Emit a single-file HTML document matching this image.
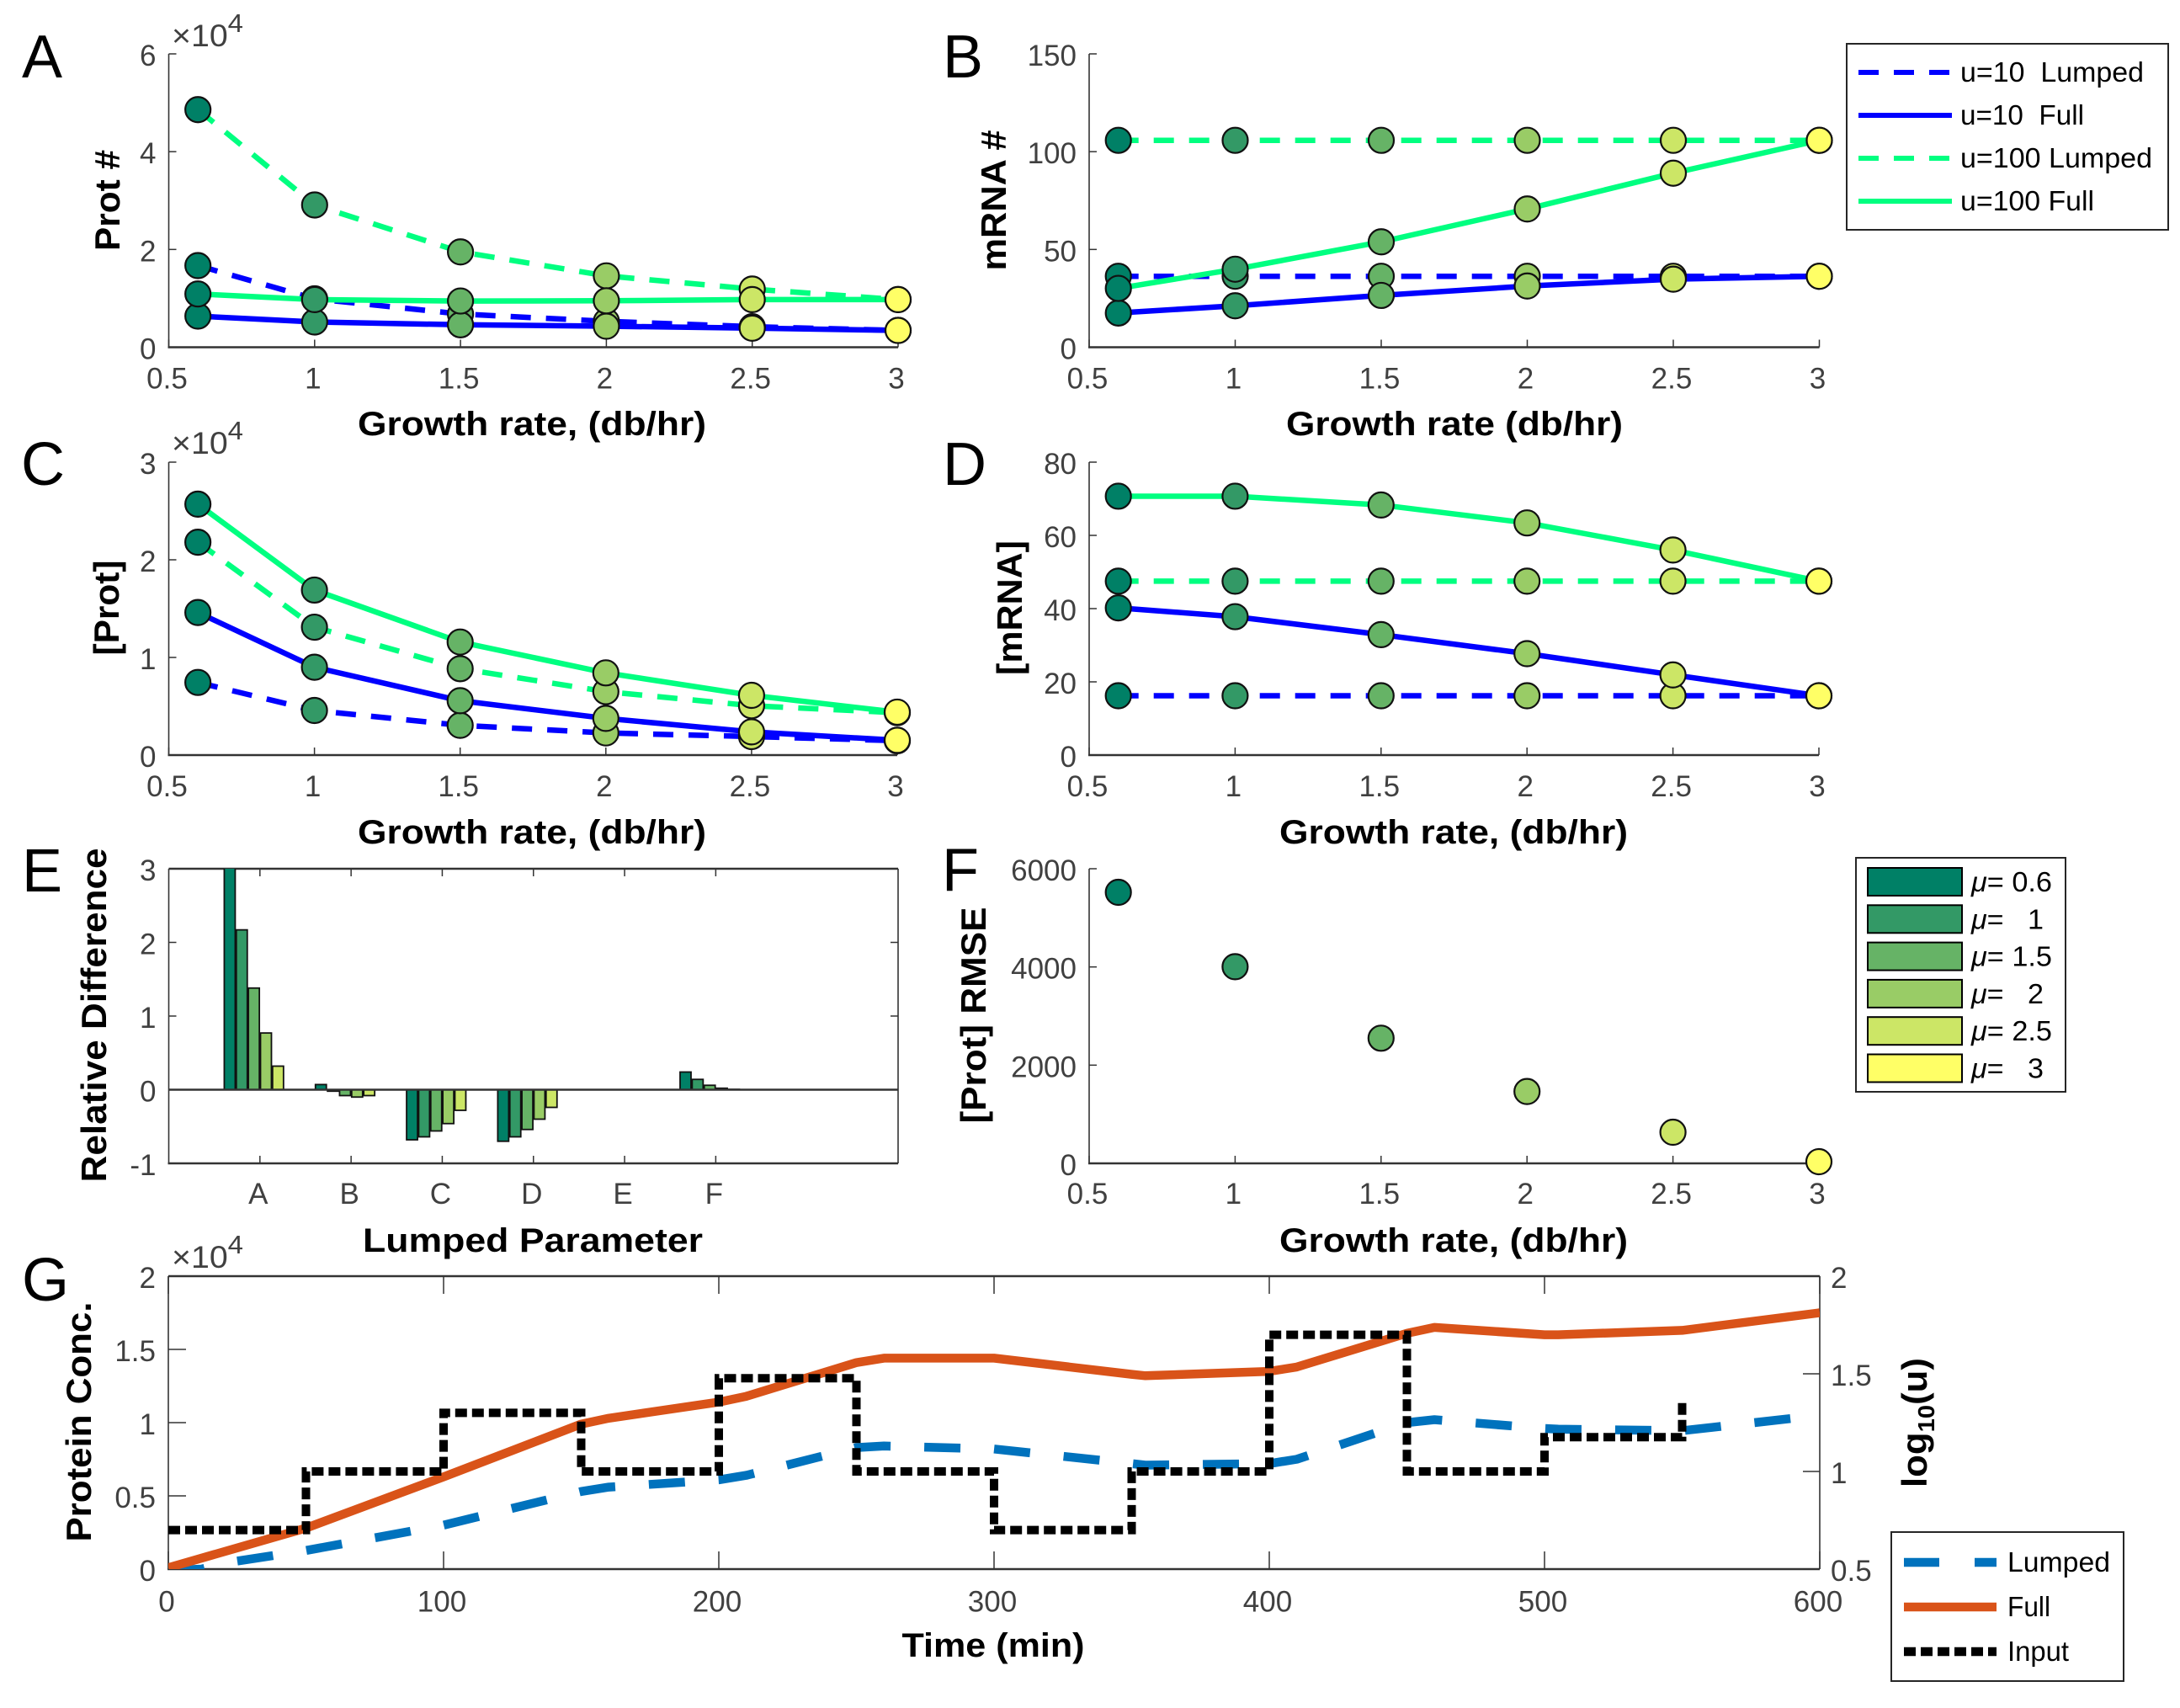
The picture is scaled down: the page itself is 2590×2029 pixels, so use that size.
<!DOCTYPE html>
<html lang="en">
<head>
<meta charset="utf-8">
<title>Lumped vs full model comparison</title>
<style>
html,body{margin:0;padding:0;background:#fff;}
svg{display:block;font-family:"Liberation Sans",sans-serif;}
.lab{font-weight:bold;font-size:40px;fill:#000;}
.ylab{font-weight:bold;font-size:42px;fill:#000;}
.letter{font-size:72px;fill:#000;}
.exp{font-size:37px;fill:#404040;}
.leg{font-size:33px;fill:#000;white-space:pre;}
</style>
</head>
<body>
<svg id="figure" xmlns="http://www.w3.org/2000/svg" width="2590" height="2029" viewBox="0 0 2590 2029">
<defs>
<clipPath id="clip-e"><rect x="200" y="1032" width="867" height="350"/></clipPath>
<clipPath id="clip-g"><rect x="200" y="1516" width="1962" height="348"/></clipPath>
</defs>
<rect x="0" y="0" width="2590" height="2029" fill="#fff"/>
<g id="plots"></g>

<text class="letter" x="26" y="92">A</text>
<text class="letter" x="1120" y="92">B</text>
<text class="letter" x="25" y="576">C</text>
<text class="letter" x="1120" y="576">D</text>
<text class="letter" x="26" y="1059">E</text>
<text class="letter" x="1119" y="1058">F</text>
<text class="letter" x="26" y="1545">G</text>

<text class="exp" x="204" y="55" textLength="85" lengthAdjust="spacingAndGlyphs">×10<tspan dy="-17" font-size="31">4</tspan></text>
<text class="exp" x="204" y="539" textLength="85" lengthAdjust="spacingAndGlyphs">×10<tspan dy="-17" font-size="31">4</tspan></text>
<text class="exp" x="204" y="1506" textLength="85" lengthAdjust="spacingAndGlyphs">×10<tspan dy="-17" font-size="31">4</tspan></text>

<text class="lab" x="632" y="517" text-anchor="middle" textLength="414" lengthAdjust="spacingAndGlyphs">Growth rate, (db/hr)</text>
<text class="lab" x="1728" y="517" text-anchor="middle" textLength="400" lengthAdjust="spacingAndGlyphs">Growth rate (db/hr)</text>
<text class="lab" x="632" y="1002" text-anchor="middle" textLength="414" lengthAdjust="spacingAndGlyphs">Growth rate, (db/hr)</text>
<text class="lab" x="1727" y="1002" text-anchor="middle" textLength="414" lengthAdjust="spacingAndGlyphs">Growth rate, (db/hr)</text>
<text class="lab" x="633" y="1487" text-anchor="middle" textLength="404" lengthAdjust="spacingAndGlyphs">Lumped Parameter</text>
<text class="lab" x="1727" y="1487" text-anchor="middle" textLength="414" lengthAdjust="spacingAndGlyphs">Growth rate, (db/hr)</text>
<text class="lab" x="1180" y="1968" text-anchor="middle" textLength="217" lengthAdjust="spacingAndGlyphs">Time (min)</text>

<text class="ylab" transform="translate(142,238) rotate(-90)" text-anchor="middle" textLength="120" lengthAdjust="spacingAndGlyphs">Prot #</text>
<text class="ylab" transform="translate(1195,238) rotate(-90)" text-anchor="middle" textLength="167" lengthAdjust="spacingAndGlyphs">mRNA #</text>
<text class="ylab" transform="translate(141,722) rotate(-90)" text-anchor="middle" textLength="113" lengthAdjust="spacingAndGlyphs">[Prot]</text>
<text class="ylab" transform="translate(1214,722) rotate(-90)" text-anchor="middle" textLength="160" lengthAdjust="spacingAndGlyphs">[mRNA]</text>
<text class="ylab" transform="translate(126,1206) rotate(-90)" text-anchor="middle" textLength="397" lengthAdjust="spacingAndGlyphs">Relative Difference</text>
<text class="ylab" transform="translate(1171,1206) rotate(-90)" text-anchor="middle" textLength="257" lengthAdjust="spacingAndGlyphs">[Prot] RMSE</text>
<text class="ylab" transform="translate(108,1689) rotate(-90)" text-anchor="middle" textLength="285" lengthAdjust="spacingAndGlyphs">Protein Conc.</text>
<text class="ylab" transform="translate(2289,1690) rotate(-90)" text-anchor="middle" textLength="154" lengthAdjust="spacingAndGlyphs">log<tspan dy="9" font-size="28">10</tspan><tspan dy="-9">(u)</tspan></text>

<g>
<rect x="2194" y="52" width="382" height="221" fill="#fff" stroke="#262626" stroke-width="2"/>
<line x1="2208" x2="2319" y1="86" y2="86" stroke="#0000ff" stroke-width="6" stroke-dasharray="24 18"/>
<text class="leg" x="2329" y="97" textLength="218" lengthAdjust="spacingAndGlyphs">u=10  Lumped</text>
<line x1="2208" x2="2319" y1="137" y2="137" stroke="#0000ff" stroke-width="6"/>
<text class="leg" x="2329" y="148" textLength="147" lengthAdjust="spacingAndGlyphs">u=10  Full</text>
<line x1="2208" x2="2319" y1="188" y2="188" stroke="#00ff80" stroke-width="6" stroke-dasharray="24 18"/>
<text class="leg" x="2329" y="199" textLength="228" lengthAdjust="spacingAndGlyphs">u=100 Lumped</text>
<line x1="2208" x2="2319" y1="239" y2="239" stroke="#00ff80" stroke-width="6"/>
<text class="leg" x="2329" y="250" textLength="159" lengthAdjust="spacingAndGlyphs">u=100 Full</text>
</g>

<g>
<rect x="2205" y="1019" width="249" height="278" fill="#fff" stroke="#262626" stroke-width="2"/>
<rect x="2219" y="1031" width="112" height="33" fill="#008066" stroke="#000" stroke-width="2"/>
<text class="leg" x="2342" y="1059" textLength="96" lengthAdjust="spacingAndGlyphs"><tspan font-style="italic">μ</tspan>= 0.6</text>
<rect x="2219" y="1075.3" width="112" height="33" fill="#339966" stroke="#000" stroke-width="2"/>
<text class="leg" x="2342" y="1103.3" textLength="86" lengthAdjust="spacingAndGlyphs"><tspan font-style="italic">μ</tspan>=   1</text>
<rect x="2219" y="1119.6" width="112" height="33" fill="#66b366" stroke="#000" stroke-width="2"/>
<text class="leg" x="2342" y="1147.6" textLength="96" lengthAdjust="spacingAndGlyphs"><tspan font-style="italic">μ</tspan>= 1.5</text>
<rect x="2219" y="1163.9" width="112" height="33" fill="#99cc66" stroke="#000" stroke-width="2"/>
<text class="leg" x="2342" y="1191.9" textLength="86" lengthAdjust="spacingAndGlyphs"><tspan font-style="italic">μ</tspan>=   2</text>
<rect x="2219" y="1208.2" width="112" height="33" fill="#cce666" stroke="#000" stroke-width="2"/>
<text class="leg" x="2342" y="1236.2" textLength="96" lengthAdjust="spacingAndGlyphs"><tspan font-style="italic">μ</tspan>= 2.5</text>
<rect x="2219" y="1252.5" width="112" height="33" fill="#ffff66" stroke="#000" stroke-width="2"/>
<text class="leg" x="2342" y="1280.5" textLength="86" lengthAdjust="spacingAndGlyphs"><tspan font-style="italic">μ</tspan>=   3</text>
</g>

<g>
<rect x="2247" y="1820" width="276" height="177" fill="#fff" stroke="#262626" stroke-width="2"/>
<line x1="2262" x2="2372" y1="1856" y2="1856" stroke="#0072bd" stroke-width="10.5" stroke-dasharray="42 42"/>
<text class="leg" x="2385" y="1867" textLength="122" lengthAdjust="spacingAndGlyphs">Lumped</text>
<line x1="2262" x2="2372" y1="1909" y2="1909" stroke="#d95319" stroke-width="10.5"/>
<text class="leg" x="2385" y="1920" textLength="51" lengthAdjust="spacingAndGlyphs">Full</text>
<line x1="2262" x2="2372" y1="1962" y2="1962" stroke="#000" stroke-width="10.5" stroke-dasharray="14 6"/>
<text class="leg" x="2385" y="1973" textLength="73" lengthAdjust="spacingAndGlyphs">Input</text>
</g>
</svg>

<script>
// ---- shared categories and tick labels ----
const growthRates = [0.6, 1, 1.5, 2, 2.5, 3];
const rateTicks = [0.5, 1, 1.5, 2, 2.5, 3];
const rateTickLabels = ['0.5', '1', '1.5', '2', '2.5', '3'];

// ---- panel A: protein count (x10^4) ----
const protCountU10Lumped = [1.67, 0.99, 0.68, 0.53, 0.42, 0.344];
const protCountU10Full = [0.637, 0.516, 0.459, 0.43, 0.39, 0.344];
const protCountU100Lumped = [4.86, 2.91, 1.95, 1.46, 1.19, 0.975];
const protCountU100Full = [1.09, 0.975, 0.946, 0.95, 0.975, 0.975];
const protCountTicks = [0, 2, 4, 6];

// ---- panel B: mRNA count ----
const mrnaCountU10Lumped = [36.3, 36.3, 36.3, 36.3, 36.3, 36.3];
const mrnaCountU10Full = [17.5, 21.2, 26.5, 31.3, 34.8, 36.3];
const mrnaCountU100Lumped = [105.8, 105.8, 105.8, 105.8, 105.8, 105.8];
const mrnaCountU100Full = [30.1, 39.9, 53.9, 70.7, 89, 105.8];
const mrnaCountTicks = [0, 50, 100, 150];

// ---- panel C: protein concentration (x10^4) ----
const protConcU10Lumped = [0.744, 0.457, 0.305, 0.227, 0.19, 0.147];
const protConcU10Full = [1.46, 0.9, 0.557, 0.376, 0.238, 0.152];
const protConcU100Lumped = [2.18, 1.31, 0.885, 0.65, 0.506, 0.434];
const protConcU100Full = [2.57, 1.69, 1.158, 0.842, 0.612, 0.44];
const protConcTicks = [0, 1, 2, 3];

// ---- panel D: mRNA concentration ----
const mrnaConcU10Lumped = [16.2, 16.2, 16.2, 16.2, 16.2, 16.2];
const mrnaConcU10Full = [40.2, 37.8, 32.9, 27.7, 21.9, 16.2];
const mrnaConcU100Lumped = [47.5, 47.5, 47.5, 47.5, 47.5, 47.5];
const mrnaConcU100Full = [70.7, 70.7, 68.3, 63.4, 56, 47.5];
const mrnaConcTicks = [0, 20, 40, 60, 80];

// ---- panel E: relative difference bars, one array per growth rate ----
const barCategories = ['A', 'B', 'C', 'D', 'E', 'F'];
const barMu06 = [3.2, 0.07, -0.68, -0.7, 0, 0.24];
const barMu1 = [2.17, -0.02, -0.64, -0.64, 0, 0.14];
const barMu15 = [1.38, -0.08, -0.56, -0.54, 0, 0.06];
const barMu2 = [0.77, -0.1, -0.46, -0.4, 0, 0.02];
const barMu25 = [0.32, -0.08, -0.28, -0.24, 0, 0.005];
const barMu3 = [0, 0, 0, 0, 0, 0];
const barTicks = [-1, 0, 1, 2, 3];

// ---- panel F: RMSE ----
const rmseValues = [5520, 4005, 2549, 1463, 634, 34];
const rmseTicks = [0, 2000, 4000, 6000];

// ---- panel G: time course ----
const fullTimes = [0, 50, 100, 150, 160, 200, 210, 250, 260, 300, 350, 355, 400, 410, 450, 460, 500, 505, 550, 600];
const fullValues = [0.01, 0.28, 0.63, 0.99, 1.03, 1.14, 1.18, 1.41, 1.44, 1.44, 1.33, 1.32, 1.35, 1.38, 1.61, 1.65, 1.6, 1.6, 1.63, 1.75];
const lumpedTimes = [0, 12, 25, 50, 100, 150, 160, 200, 210, 250, 260, 300, 350, 355, 400, 410, 450, 460, 500, 505, 550, 600];
const lumpedValues = [-0.01, 0.0, 0.055, 0.127, 0.3, 0.53, 0.56, 0.61, 0.64, 0.83, 0.84, 0.82, 0.72, 0.71, 0.72, 0.75, 1.0, 1.02, 0.96, 0.955, 0.945, 1.05];
const inputStepTimes = [0, 50, 100, 150, 200, 250, 300, 350, 400, 450, 500, 550];
const inputLevels = [0.7, 1, 1.3, 1, 1.477, 1, 0.7, 1, 1.7, 1, 1.176, 1.36];
const timeTicks = [0, 100, 200, 300, 400, 500, 600];
const concTicks = [0, 0.5, 1, 1.5, 2];
const concTickLabels = ['0', '0.5', '1', '1.5', '2'];
const logTicks = [0.5, 1, 1.5, 2];
const logTickLabels = ['0.5', '1', '1.5', '2'];

// ---- styling ----
const rateColors = ['#008066', '#339966', '#66b366', '#99cc66', '#cce666', '#ffff66'];
const rateNames = ['0-6', '1', '1-5', '2', '2-5', '3'];
const SVG_NS = 'http://www.w3.org/2000/svg';
const root = document.getElementById('plots');
const AXIS_COLOR = '#333333';
const TICK_COLOR = '#404040';

function linearScale(d0, d1, r0, r1) {
  return function (v) { return r0 + (v - d0) / (d1 - d0) * (r1 - r0); };
}
function make(tag, parent, attrs) {
  const el = document.createElementNS(SVG_NS, tag);
  Object.keys(attrs).forEach(function (k) { el.setAttribute(k, attrs[k]); });
  parent.appendChild(el);
  return el;
}
function drawSegment(parent, name, x1, y1, x2, y2, width) {
  const el = make('line', parent, { x1: x1, y1: y1, x2: x2, y2: y2, stroke: AXIS_COLOR, 'stroke-width': width });
  
  
  return el;
}
function drawLabel(parent, name, x, y, str, anchor) {
  const el = make('text', parent, { x: x, y: y, 'font-size': 35, fill: TICK_COLOR, 'text-anchor': anchor });
  el.textContent = str;
  
  
  return el;
}
function drawPanelAxes(group, box, sx, sy, xTicks, xLabels, yTicks, yLabels, xLabelBase, tickLen, boxed) {
  drawSegment(group, 'y-axis-line', box.left, box.top, box.left, box.bottom, 1.6);
  drawSegment(group, 'x-axis-line', box.left - 1, box.bottom, box.right, box.bottom, 2.4);
  if (boxed) {
    drawSegment(group, 'top-axis-line', box.left, box.top, box.right, box.top, 2.4);
    drawSegment(group, 'right-axis-line', box.right, box.top, box.right, box.bottom, 1.6);
  }
  xTicks.forEach(function (t, i) {
    const x = sx(t);
    drawSegment(group, 'x-tick', x, box.bottom, x, box.bottom - tickLen, 1.5);
    if (boxed) { drawSegment(group, 'x-tick-top', x, box.top, x, box.top + tickLen, 1.5); }
    drawLabel(group, 'x-tick-label', x - 2, xLabelBase, xLabels[i], 'middle');
  });
  yTicks.forEach(function (t, i) {
    const y = sy(t);
    drawSegment(group, 'y-tick', box.left, y, box.left + tickLen, y, 1.5);
    drawLabel(group, 'y-tick-label', box.left - 15, y + 14, yLabels[i], 'end');
  });
}
function drawPolyline(parent, name, xs, ys, sx, sy, color, width, dash, clip) {
  const pts = xs.map(function (x, i) { return sx(x).toFixed(1) + ',' + sy(ys[i]).toFixed(1); }).join(' ');
  const el = make('polyline', parent, { points: pts, fill: 'none', stroke: color, 'stroke-width': width, 'stroke-linejoin': 'round' });
  if (dash) { el.setAttribute('stroke-dasharray', dash); }
  if (clip) { el.setAttribute('clip-path', clip); }
  
  
  return el;
}
function drawMarkers(parent, name, values, sx, sy) {
  values.forEach(function (v, i) {
    const c = make('circle', parent, { cx: sx(growthRates[i]), cy: sy(v), r: 15, fill: rateColors[i], stroke: '#111', 'stroke-width': 2.2 });
    
    
  });
}
function drawFourSeriesPanel(name, box, yMax, u10Lumped, u10Full, u100Lumped, u100Full, yTicks, xLabelBase) {
  const group = make('g', root, {});
  
  
  const sx = linearScale(0.5, 3, box.left, box.right);
  const sy = linearScale(0, yMax, box.bottom, box.top);
  drawPanelAxes(group, box, sx, sy, rateTicks, rateTickLabels, yTicks, yTicks.map(String), xLabelBase, 9, false);
  drawPolyline(group, 'line-u10-lumped', growthRates, u10Lumped, sx, sy, '#0000ff', 6.5, '24 18');
  drawPolyline(group, 'line-u10-full', growthRates, u10Full, sx, sy, '#0000ff', 6.5);
  drawPolyline(group, 'line-u100-lumped', growthRates, u100Lumped, sx, sy, '#00ff80', 6.5, '24 18');
  drawPolyline(group, 'line-u100-full', growthRates, u100Full, sx, sy, '#00ff80', 6.5);
  drawMarkers(group, 'u10-lumped', u10Lumped, sx, sy);
  drawMarkers(group, 'u10-full', u10Full, sx, sy);
  drawMarkers(group, 'u100-lumped', u100Lumped, sx, sy);
  drawMarkers(group, 'u100-full', u100Full, sx, sy);
}

// panels A-D
drawFourSeriesPanel('panel-a-protein-count', { left: 200.5, right: 1067, top: 64, bottom: 412.5 }, 6,
  protCountU10Lumped, protCountU10Full, protCountU100Lumped, protCountU100Full, protCountTicks, 461.5);
drawFourSeriesPanel('panel-b-mrna-count', { left: 1294, right: 2161.5, top: 64, bottom: 412.5 }, 150,
  mrnaCountU10Lumped, mrnaCountU10Full, mrnaCountU100Lumped, mrnaCountU100Full, mrnaCountTicks, 461.5);
drawFourSeriesPanel('panel-c-protein-conc', { left: 200.5, right: 1066, top: 549, bottom: 897 }, 3,
  protConcU10Lumped, protConcU10Full, protConcU100Lumped, protConcU100Full, protConcTicks, 946);
drawFourSeriesPanel('panel-d-mrna-conc', { left: 1294, right: 2161, top: 549, bottom: 897 }, 80,
  mrnaConcU10Lumped, mrnaConcU10Full, mrnaConcU100Lumped, mrnaConcU100Full, mrnaConcTicks, 946);

// panel E: grouped bars
(function () {
  const box = { left: 200.5, right: 1067, top: 1032, bottom: 1382 };
  const group = make('g', root, {});
  
  
  const sx = linearScale(0, 8, box.left, box.right);
  const sy = linearScale(-1, 3, box.bottom, box.top);
  const positions = barCategories.map(function (c, i) { return i + 1; });
  drawPanelAxes(group, box, sx, sy, positions, barCategories, barTicks, barTicks.map(String), 1430, 9, true);
  barTicks.forEach(function (t) {
    drawSegment(group, 'y-tick-right', box.right, sy(t), box.right - 9, sy(t), 1.5);
  });
  const barSeries = [barMu06, barMu1, barMu15, barMu2, barMu25, barMu3];
  const step = 0.1325;
  const barW = 0.12;
  barSeries.forEach(function (series, j) {
    series.forEach(function (v, i) {
      const xc = positions[i] + (j - 2.5) * step;
      const y0 = sy(0);
      const y1 = sy(v);
      const bar = make('rect', group, {
        x: sx(xc - barW / 2),
        y: Math.min(y0, y1),
        width: sx(barW) - sx(0),
        height: Math.abs(y1 - y0),
        fill: rateColors[j],
        stroke: '#111',
        'stroke-width': 1.8,
        'clip-path': 'url(#clip-e)'
      });
      
      
    });
  });
  drawSegment(group, 'zero-line', box.left, sy(0), box.right, sy(0), 2.6);
})();

// panel F: RMSE scatter
(function () {
  const box = { left: 1294, right: 2161, top: 1032, bottom: 1382 };
  const group = make('g', root, {});
  
  
  const sx = linearScale(0.5, 3, box.left, box.right);
  const sy = linearScale(0, 6000, box.bottom, box.top);
  drawPanelAxes(group, box, sx, sy, rateTicks, rateTickLabels, rmseTicks, rmseTicks.map(String), 1430, 9, false);
  drawMarkers(group, 'rmse', rmseValues, sx, sy);
})();

// panel G: time course with two y axes
(function () {
  const box = { left: 200, right: 2162, top: 1516, bottom: 1864 };
  const group = make('g', root, {});
  
  
  const sx = linearScale(0, 600, box.left, box.right);
  const sy = linearScale(0, 2, box.bottom, box.top);
  const syRight = linearScale(0.5, 2, box.bottom, box.top);
  drawPanelAxes(group, box, sx, sy, timeTicks, timeTicks.map(String), concTicks, concTickLabels, 1914.5, 21, true);
  logTicks.forEach(function (t, i) {
    drawSegment(group, 'right-y-tick', box.right, syRight(t), box.right - 20, syRight(t), 1.5);
    drawLabel(group, 'right-y-tick-label', box.right + 13, syRight(t) + 14, logTickLabels[i], 'start');
  });
  drawPolyline(group, 'line-lumped', lumpedTimes, lumpedValues, sx, sy, '#0072bd', 10.5, '43 40', 'url(#clip-g)');
  drawPolyline(group, 'line-full', fullTimes, fullValues, sx, sy, '#d95319', 10.5, null, 'url(#clip-g)');
  let d = 'M' + sx(inputStepTimes[0]).toFixed(1) + ' ' + syRight(inputLevels[0]).toFixed(1);
  inputStepTimes.forEach(function (t, i) {
    if (i > 0) {
      d += ' H' + sx(t).toFixed(1) + ' V' + syRight(inputLevels[i]).toFixed(1);
    }
  });
  const stairs = make('path', group, { d: d, fill: 'none', stroke: '#000', 'stroke-width': 10, 'stroke-dasharray': '14 6' });
  
  
})();
</script>
</body>
</html>
